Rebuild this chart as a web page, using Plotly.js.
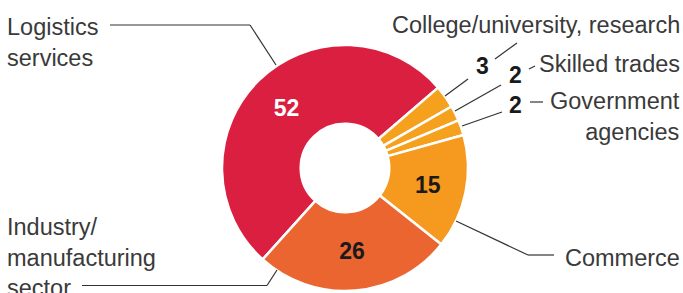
<!DOCTYPE html>
<html><head><meta charset="utf-8">
<script src="https://cdn.plot.ly/plotly-3.0.1.min.js"></script>
<style>html,body{margin:0;padding:0;background:#fff}</style>
</head><body>
<div id="chart" style="width:683px;height:293px"></div>
<script>
const categories = ["Logistics services", "College/university, research", "Skilled trades", "Government agencies", "Commerce", "Industry/manufacturing sector"];
const values = [52, 3, 2, 2, 15, 26];
const sliceColors = ["#da1f40", "#f6a11d", "#f6a11d", "#f6a11d", "#f5991f", "#ea6530"];
const insideColors = ["#ffffff", "#000", "#000", "#000", "#1a1a1a", "#1a1a1a"];
const textPos = ["inside", "none", "none", "none", "inside", "inside"];

const W = 683, H = 293;
const px = x => x / W, py = y => 1 - y / H;
const FONT = "Liberation Sans, Arial, Helvetica, sans-serif";
const LC = "#333333";

const trace = {
  type: "pie",
  values: values,
  labels: categories,
  sort: false,
  direction: "clockwise",
  rotation: 222,
  hole: 0.36,
  marker: {colors: sliceColors, line: {color: "#ffffff", width: 2.5}},
  textinfo: "value",
  textposition: textPos,
  insidetextorientation: "horizontal",
  insidetextfont: {family: FONT, size: 23, color: insideColors, weight: "bold"},
  domain: {x: [px(345 - 123), px(345 + 123)], y: [py(168 + 123), py(168 - 123)]},
  showlegend: false,
  hoverinfo: "label+value"
};

function ann(text, x, y, xanchor, opts) {
  return Object.assign({
    text: text, x: px(x), y: py(y), xref: "paper", yref: "paper",
    xanchor: xanchor, yanchor: "middle", showarrow: false, align: xanchor === "right" ? "right" : "left",
    font: {family: FONT, size: 23.5, color: "#3a3a3a"}
  }, opts || {});
}
const numFont = {family: FONT, size: 23, color: "#1a1a1a", weight: "bold"};

const annotations = [
  ann("Logistics<br>services", 5, 42, "left"),
  ann("Industry/<br>manufacturing<br>sector", 5, 257, "left"),
  ann("College/university, research", 682, 25, "right"),
  ann("Skilled trades", 682, 64, "right"),
  ann("Government<br>agencies", 682, 116, "right"),
  ann("Commerce", 682, 258, "right"),
  ann(String(values[1]), 482, 66, "center", {font: numFont}),
  ann(String(values[2]), 515, 75, "center", {font: numFont}),
  ann(String(values[3]), 515, 105, "center", {font: numFont})
];

function seg(x0, y0, x1, y1) {
  return {type: "line", xref: "paper", yref: "paper", x0: px(x0), y0: py(y0), x1: px(x1), y1: py(y1),
    line: {color: LC, width: 1.2}};
}
const shapes = [
  seg(110, 25, 250, 25), seg(250, 25, 276, 65),
  seg(82, 285.5, 267, 285.5), seg(267, 285.5, 277, 270),
  seg(456, 221, 528, 255), seg(528, 255, 554, 255),
  seg(445, 96, 468, 79), seg(495, 59, 517, 43),
  seg(455, 111, 501, 85), seg(529, 69, 535, 66),
  seg(462, 126, 502, 112), seg(530, 102, 543, 102)
];

Plotly.newPlot("chart", [trace], {
  width: W, height: H,
  margin: {l: 0, r: 0, t: 0, b: 0},
  paper_bgcolor: "#ffffff",
  annotations: annotations,
  shapes: shapes
}, {staticPlot: true});
</script>
</body></html>
